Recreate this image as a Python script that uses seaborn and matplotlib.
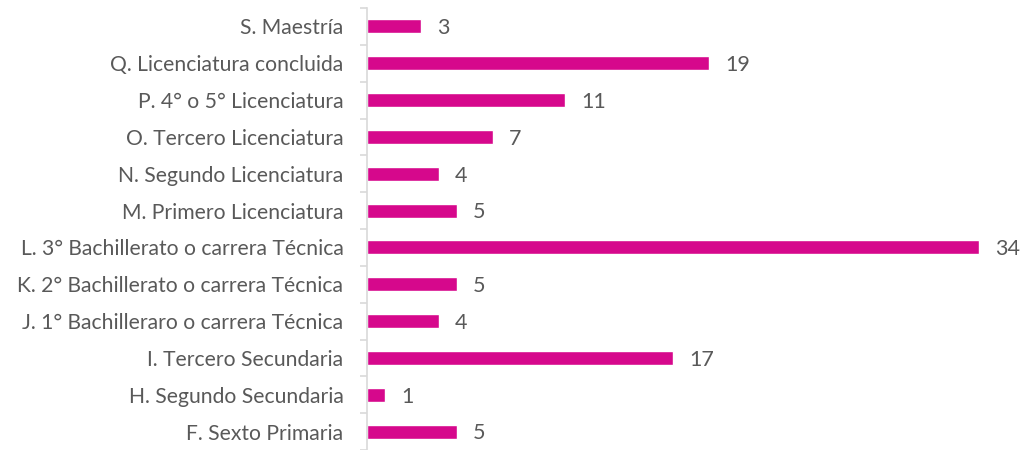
import matplotlib
matplotlib.use("Agg")
import matplotlib.pyplot as plt
import matplotlib.ticker as mtick
import seaborn as sns
import pandas as pd

categorias = [
    "S. Maestría",
    "Q. Licenciatura concluida",
    "P. 4° o 5° Licenciatura",
    "O. Tercero Licenciatura",
    "N. Segundo Licenciatura",
    "M. Primero Licenciatura",
    "L. 3° Bachillerato o carrera Técnica",
    "K. 2° Bachillerato o carrera Técnica",
    "J. 1° Bachilleraro o carrera Técnica",
    "I. Tercero Secundaria",
    "H. Segundo Secundaria",
    "F. Sexto Primaria",
]
valores = [3, 19, 11, 7, 4, 5, 34, 5, 4, 17, 1, 5]

df = pd.DataFrame({"cat": categorias, "val": valores})

sns.set_style("white")
plt.rcParams["font.family"] = ["Lato", "DejaVu Sans"]

COLOR = "#D6088C"
GRIS = "#595959"

fig = plt.figure(figsize=(10.23, 4.5), dpi=100)
ax = fig.add_axes([367 / 1023, 0.0, 648 / 1023, 442 / 450])

sns.barplot(data=df, x="val", y="cat", color=COLOR, width=0.38, ax=ax,
            saturation=1, orient="h")

ax.set_xlim(0, 36)
ax.set_ylim(len(categorias) - 0.5, -0.5)
ax.set_xlabel("")
ax.set_ylabel("")
ax.set_xticks([])

for s in ["top", "right", "bottom"]:
    ax.spines[s].set_visible(False)
ax.spines["left"].set_color("#D9D9D9")
ax.spines["left"].set_linewidth(1.2)

# marcas entre categorias
ax.yaxis.set_minor_locator(mtick.FixedLocator([i - 0.5 for i in range(len(categorias) + 1)]))
ax.tick_params(axis="y", which="major", length=0, pad=17, labelsize=15.2, labelcolor=GRIS)
ax.tick_params(axis="y", which="minor", length=5, color="#D9D9D9", width=1.2, left=True)

for i, v in enumerate(valores):
    ax.text(v + 0.9, i + 0.05, str(v), va="center", ha="left", fontsize=15.5, color=GRIS)

fig.savefig("out.png", dpi=100)
